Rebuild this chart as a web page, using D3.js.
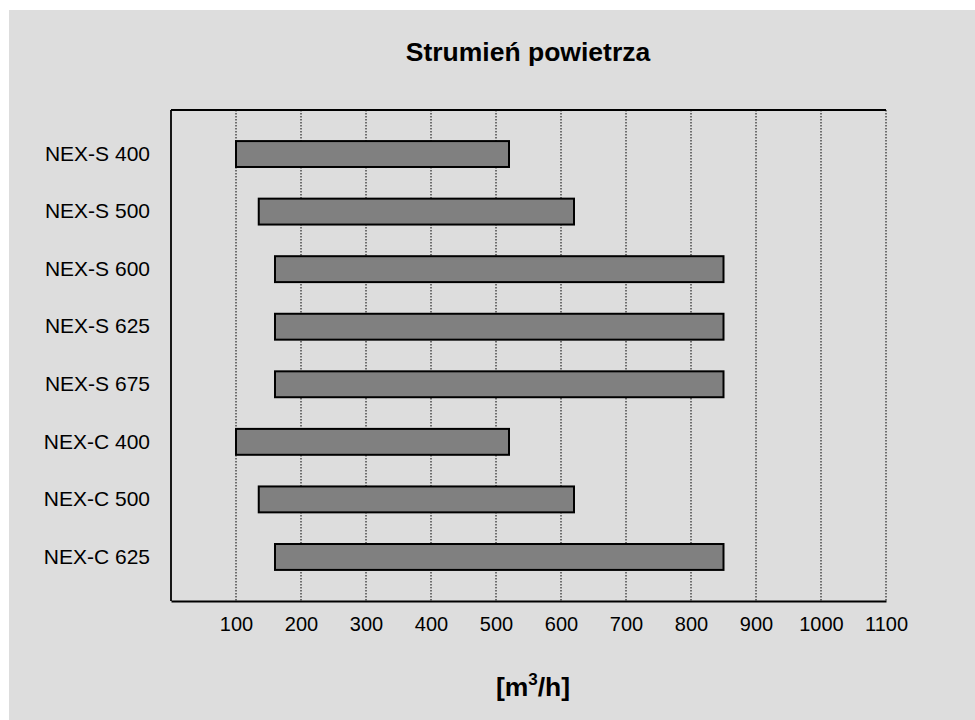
<!DOCTYPE html>
<html>
<head>
<meta charset="utf-8">
<script src="https://cdn.jsdelivr.net/npm/d3@7"></script>
<style>
  body { margin: 0; background: #fff; }
  text { font-family: Arial, "Liberation Sans", sans-serif; fill: #000; }
</style>
</head>
<body>
<svg id="chart" width="975" height="720"></svg>
<script>
//Chart data
var models = ["NEX-S 400", "NEX-S 500", "NEX-S 600", "NEX-S 625", "NEX-S 675", "NEX-C 400", "NEX-C 500", "NEX-C 625"];
var flowMin = [100, 135, 160, 160, 160, 100, 135, 160];
var flowMax = [520, 620, 850, 850, 850, 520, 620, 850];
var xTicks = [100, 200, 300, 400, 500, 600, 700, 800, 900, 1000, 1100];

var svg = d3.select("#chart");

//Grey background panel
svg.append("rect")
  .attr("x", 9).attr("y", 10)
  .attr("width", 966).attr("height", 710)
  .attr("fill", "#dddddd");

var margin = {top: 110, left: 171, right: 89, bottom: 119},
  width = 975 - margin.left - margin.right,
  height = 720 - margin.top - margin.bottom,
  g = svg.append("g").attr("transform", "translate(" + margin.left + "," + margin.top + ")");

var x = d3.scaleLinear().domain([0, 1100]).range([0, width]);
var y = d3.scaleBand().domain(models).range([0, height])
  .paddingInner(0.55).paddingOuter(0.54);

//Dotted vertical gridlines
g.append("g")
  .selectAll("line")
  .data(xTicks)
  .enter().append("line")
  .attr("x1", function(d) { return x(d); })
  .attr("x2", function(d) { return x(d); })
  .attr("y1", 0).attr("y2", height)
  .attr("stroke", "#000")
  .attr("stroke-width", 1)
  .attr("stroke-dasharray", "1.5,1.5");

//Plot frame: top and left solid lines (bottom is the axis)
g.append("line").attr("x1", 0).attr("x2", width).attr("y1", 0).attr("y2", 0)
  .attr("stroke", "#000").attr("stroke-width", 1.8);
g.append("line").attr("x1", 0).attr("x2", 0).attr("y1", 0).attr("y2", height)
  .attr("stroke", "#000").attr("stroke-width", 1.8);

//Floating bars (min to max)
var rows = models.map(function(m, i) { return {name: m, lo: flowMin[i], hi: flowMax[i]}; });
g.append("g")
  .selectAll("rect")
  .data(rows)
  .enter().append("rect")
  .attr("x", function(d) { return x(d.lo); })
  .attr("y", function(d) { return y(d.name); })
  .attr("width", function(d) { return x(d.hi) - x(d.lo); })
  .attr("height", y.bandwidth())
  .attr("fill", "#808080")
  .attr("stroke", "#000")
  .attr("stroke-width", 2);

//X axis
var xAxis = g.append("g")
  .attr("transform", "translate(0," + height + ")")
  .call(d3.axisBottom(x).tickValues(xTicks).tickFormat(d3.format("d")).tickSize(0).tickPadding(16));
xAxis.select(".domain").attr("stroke", "#000").attr("stroke-width", 2);
xAxis.selectAll("text").attr("font-size", 20).attr("fill", "#000")
  .attr("font-family", "Arial, 'Liberation Sans', sans-serif");

//Y axis labels
var yAxis = g.append("g")
  .call(d3.axisLeft(y).tickSize(0).tickPadding(21));
yAxis.select(".domain").remove();
yAxis.selectAll("text").attr("font-size", 21).attr("fill", "#000")
  .attr("font-family", "Arial, 'Liberation Sans', sans-serif");

//Title
svg.append("text")
  .attr("x", 528).attr("y", 61)
  .attr("text-anchor", "middle")
  .attr("font-size", 26.5)
  .attr("font-weight", "bold")
  .text("Strumień powietrza");

//Axis unit label
var unit = svg.append("text")
  .attr("x", 533).attr("y", 696)
  .attr("text-anchor", "middle")
  .attr("font-size", 26.5)
  .attr("font-weight", "bold");
unit.append("tspan").text("[m");
unit.append("tspan").attr("dy", -11).attr("font-size", 17).text("3");
unit.append("tspan").attr("dy", 11).text("/h]");
</script>
</body>
</html>
